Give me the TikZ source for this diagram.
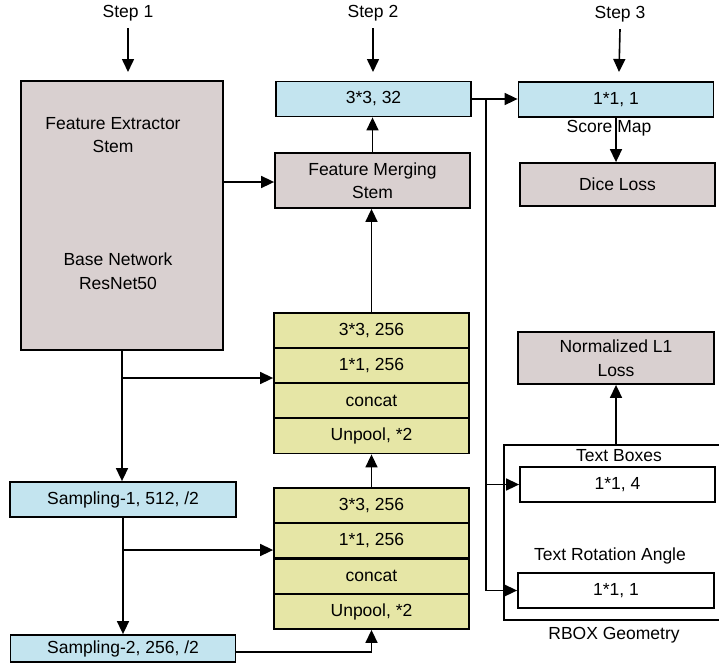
\documentclass[tikz,border=0pt]{standalone}
\usepackage{fontspec}
\setmainfont{Liberation Sans}
\usetikzlibrary{arrows.meta}
\definecolor{gbox}{RGB}{217,208,208}
\definecolor{bbox}{RGB}{195,228,239}
\definecolor{ybox}{RGB}{230,230,166}
\begin{document}
\begin{tikzpicture}[x=1pt,y=-1pt,
  every node/.style={font=\fontsize{17.5}{23.5}\selectfont, inner sep=0pt, align=center},
  box/.style={draw, line width=1.8pt, minimum width=195pt, minimum height=35pt},
  gray box/.style={box, fill=gbox},
  blue box/.style={box, fill=bbox},
  yel box/.style={box, fill=ybox},
  white box/.style={box, fill=white},
  arr/.style={line width=1.6pt, -{Triangle[length=13pt,width=12pt]}},
  ln/.style={line width=1.6pt}]
\useasboundingbox (0,0) rectangle (719,664);

% step labels
\node (st1) at (128,13) {Step 1};
\node (st2) at (373,13) {Step 2};
\node (st3) at (620,14) {Step 3};
\coordinate (st1e) at (128,72);
\coordinate (st2e) at (373,72);
\coordinate (st3e) at (619,72);

% feature extractor
\node[gray box, minimum width=202pt, minimum height=269pt] (fe) at (122,215.5) {};
\node (fet) at (113,135) {Feature Extractor\\Stem};
\node (bnt) at (118,271) {Base Network\\ResNet50};

% step 2 column
\node[blue box] (s32) at (373.5,99) {3*3, 32};
\node[gray box, minimum height=55pt] (fms) at (372.5,180.5) {Feature Merging\\Stem};

\node[yel box] (a1) at (371.5,330.5) {3*3, 256};
\node[yel box] (a2) at (371.5,365.5) {1*1, 256};
\node[yel box] (a3) at (371.5,400.5) {concat};
\node[yel box] (a4) at (371.5,436) {Unpool, *2};

\node[yel box] (b1) at (371.5,505.5) {3*3, 256};
\node[yel box] (b2) at (371.5,540.75) {1*1, 256};
\node[yel box] (b3) at (371.5,576.25) {concat};
\node[yel box] (b4) at (371.5,611.5) {Unpool, *2};

% sampling boxes
\node[blue box, minimum width=226pt] (sa1) at (123,499.5) {Sampling-1, 512, /2};
\node[blue box, minimum width=225pt, minimum height=27pt] (sa2) at (123,648.5) {Sampling-2, 256, /2};

% step 3 column
\node[blue box] (sm) at (616,99.5) {1*1, 1};
\node (smt) at (609,128) {Score Map};
\node[gray box, minimum height=43pt] (dice) at (617.5,184.5) {Dice Loss};
\node[gray box, minimum width=196pt, minimum height=52pt] (nl1) at (616,358) {Normalized L1\\Loss};

\draw[ln] (725,445) -- (504,445) -- (504,620) -- (725,620);
\coordinate (rtop) at (616,445);
\node (tbt) at (619,456) {Text Boxes};
\node[white box] (tb) at (617.5,484.5) {1*1, 4};
\node (rat) at (610,556) {Text Rotation Angle};
\node[white box, minimum width=196pt] (ra) at (616,590.5) {1*1, 1};
\node (rbt) at (614,635) {RBOX Geometry};

% connectors
\draw[arr] ([yshift=-7pt]st1.south) -- (st1e);
\draw[arr] ([yshift=-7pt]st2.south) -- (st2e);
\draw[arr] ([yshift=-7pt]st3.south) -- (st3e);

\draw[arr] (fe.east |- 0,182) -- (fms.west |- 0,182);
\draw[arr] (fms.north) -- (fms.north |- s32.south);
\draw[arr] (a1.north) -- (a1.north |- fms.south);
\draw[arr] (b1.north) -- (a4.south);

\coordinate (j1) at (122,378);
\draw[arr] (fe.south) -- (fe.south |- sa1.north);
\draw[arr] (j1) -- (j1 -| a2.west);

\coordinate (j2) at (123,550);
\draw[arr] (sa1.south) -- (sa1.south |- sa2.north);
\draw[arr] (j2) -- (j2 -| b2.west);

\draw[arr] ([yshift=-3.5pt]sa2.east) -| (b4.south);

\coordinate (j3) at (486,99);
\draw[arr] (s32.east) -- (sm.west |- s32.east);
\draw[ln] (j3) -- (j3 |- ra.west);
\draw[arr] (j3 |- ra.west) -- (ra.west);
\draw[arr] (j3 |- tb.west) -- (tb.west);

\draw[arr] (sm.south) -- (sm.south |- dice.north);
\draw[arr] (rtop) -- (nl1.south);
\end{tikzpicture}
\end{document}
